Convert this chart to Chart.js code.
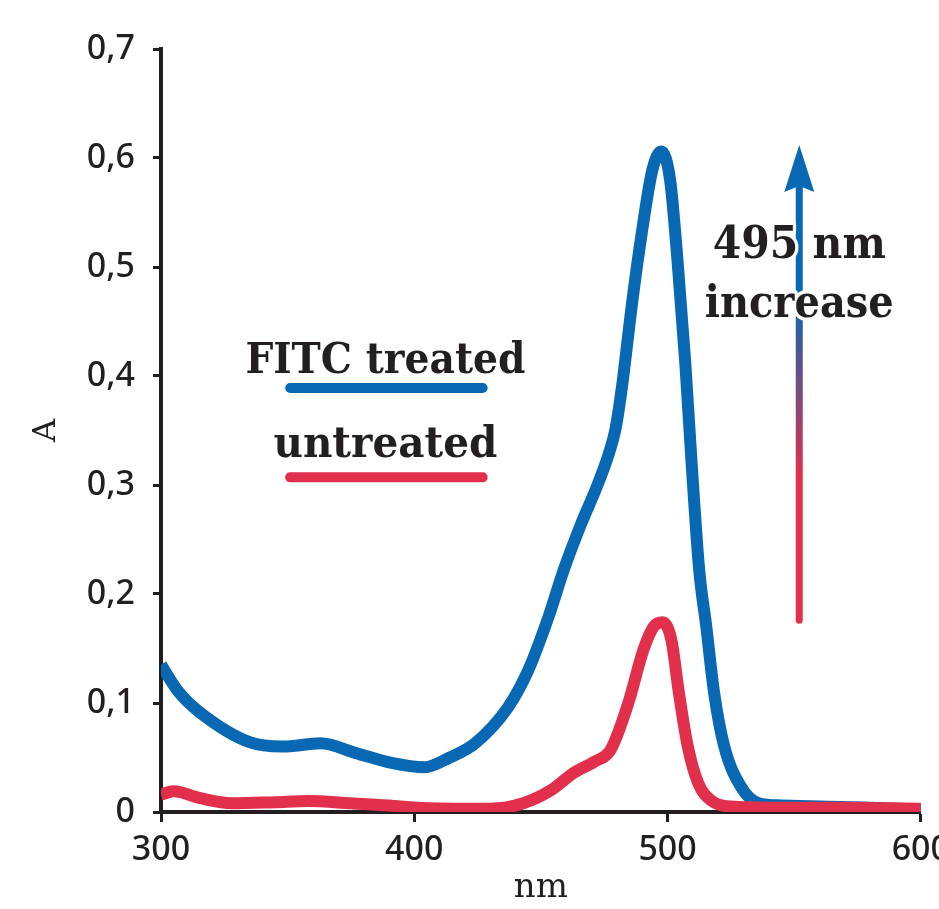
<!DOCTYPE html>
<html>
<head>
<meta charset="utf-8">
<script src="https://cdn.jsdelivr.net/npm/chart.js@4.4.1/dist/chart.umd.min.js"></script>
<style>
    html, body { margin: 0; padding: 0; background: #fff; overflow: hidden; }
    #wrap { width: 939px; height: 909px; overflow: hidden; }
</style>
</head>
<body>
<div id="wrap"><canvas id="spectrum" width="958" height="909"></canvas></div>
<script>
// absorbance spectra, wavelength in nm
const fitcNm = [300, 307, 315, 335, 348, 363, 377, 391, 404, 414, 424, 437, 445, 453, 459, 466, 472, 477, 479.5, 482, 486, 490, 494, 497.5, 501, 504, 507, 509.5, 512.5, 515.3, 518.4, 522.4, 529, 536, 545, 560, 580, 600];
const fitcA = [0.135, 0.110, 0.092, 0.064, 0.060, 0.063, 0.054, 0.045, 0.041, 0.050, 0.063, 0.096, 0.130, 0.179, 0.222, 0.265, 0.298, 0.330, 0.352, 0.390, 0.467, 0.534, 0.589, 0.606, 0.580, 0.504, 0.412, 0.320, 0.222, 0.170, 0.109, 0.060, 0.023, 0.008, 0.006, 0.005, 0.004, 0.002];

const untreatedNm = [300, 305, 315, 328, 345, 358, 375, 390, 401, 421, 430, 443, 454, 463, 471, 477.5, 484.5, 490.5, 494.5, 498, 501.5, 504.5, 508, 512, 517, 525, 540, 570, 600];
const untreatedA = [0.016, 0.019, 0.013, 0.008, 0.009, 0.010, 0.008, 0.006, 0.004, 0.003, 0.003, 0.008, 0.020, 0.036, 0.046, 0.057, 0.100, 0.149, 0.170, 0.174, 0.158, 0.109, 0.060, 0.027, 0.011, 0.005, 0.004, 0.004, 0.003];

const xTicks = [300, 400, 500, 600];
const yTicks = [0, 0.1, 0.2, 0.3, 0.4, 0.5, 0.6, 0.7];

const BLUE = '#0868b3';
const RED = '#e2304c';
const INK = '#231f20';

const toPoints = (xs, ys) => xs.map((x, i) => ({ x: x, y: ys[i] }));

// legend labels and the arrow note drawn inside the plot
const annotations = {
    id: 'annotations',
    afterDatasetsDraw(chart) {
        const ctx = chart.ctx;
        const sx = chart.scales.x;
        const sy = chart.scales.y;

        const drawText = (text, nm, a, font, width) => {
            ctx.font = font;
            ctx.textAlign = 'center';
            ctx.textBaseline = 'alphabetic';
            ctx.lineJoin = 'round';
            ctx.lineWidth = 7;
            ctx.strokeStyle = '#fff';
            ctx.strokeText(text, sx.getPixelForValue(nm), sy.getPixelForValue(a), width);
            ctx.fillStyle = INK;
            ctx.fillText(text, sx.getPixelForValue(nm), sy.getPixelForValue(a), width);
        };

        const drawBar = (color, a) => {
            ctx.beginPath();
            ctx.moveTo(sx.getPixelForValue(351), sy.getPixelForValue(a));
            ctx.lineTo(sx.getPixelForValue(427), sy.getPixelForValue(a));
            ctx.lineWidth = 10;
            ctx.lineCap = 'round';
            ctx.strokeStyle = color;
            ctx.stroke();
        };

        ctx.save();

        // legend
        drawText('FITC treated', 388.6, 0.403, 'bold 42px "DejaVu Serif"', 280);
        drawBar(BLUE, 0.389);
        drawText('untreated', 388.6, 0.326, 'bold 42px "DejaVu Serif"', 224);
        drawBar(RED, 0.307);

        // arrow, red at the base fading into blue at the head
        const ax = sx.getPixelForValue(552);
        const yBase = sy.getPixelForValue(0.176);
        const yTip = sy.getPixelForValue(0.612);
        const grad = ctx.createLinearGradient(0, yBase, 0, yTip);
        grad.addColorStop(0, RED);
        grad.addColorStop(0.3, RED);
        grad.addColorStop(0.68, BLUE);
        grad.addColorStop(1, BLUE);

        ctx.beginPath();
        ctx.moveTo(ax, yBase);
        ctx.lineTo(ax, yTip + 38);
        ctx.lineWidth = 7;
        ctx.lineCap = 'round';
        ctx.strokeStyle = grad;
        ctx.stroke();

        ctx.beginPath();
        ctx.moveTo(ax, yTip);
        ctx.lineTo(ax + 15, yTip + 47);
        ctx.lineTo(ax, yTip + 41);
        ctx.lineTo(ax - 15, yTip + 47);
        ctx.closePath();
        ctx.fillStyle = BLUE;
        ctx.fill();

        drawText('495 nm', 552, 0.508, 'bold 44px "DejaVu Serif"', 173);
        drawText('increase', 552, 0.454, 'bold 44px "DejaVu Serif"', 189);

        ctx.restore();
    }
};

const chart = new Chart(document.getElementById('spectrum').getContext('2d'), {
    type: 'line',
    data: {
        datasets: [
            {
                label: 'untreated',
                data: toPoints(untreatedNm, untreatedA),
                borderColor: RED,
                borderWidth: 12,
                pointRadius: 0,
                cubicInterpolationMode: 'monotone',
                order: 0
            },
            {
                label: 'FITC treated',
                data: toPoints(fitcNm, fitcA),
                borderColor: BLUE,
                borderWidth: 12,
                pointRadius: 0,
                cubicInterpolationMode: 'monotone',
                order: 1
            }
        ]
    },
    options: {
        responsive: false,
        animation: false,
        layout: {
            padding: { top: 49, right: 16, bottom: 0, left: 0 }
        },
        plugins: {
            legend: { display: false },
            tooltip: { enabled: false }
        },
        scales: {
            x: {
                type: 'linear',
                min: 300,
                max: 600,
                afterFit: (scale) => { scale.height = 97; },
                afterBuildTicks: (scale) => { scale.ticks = xTicks.map(v => ({ value: v })); },
                border: { color: INK, width: 4 },
                grid: {
                    drawOnChartArea: false,
                    drawTicks: true,
                    tickLength: 10,
                    tickWidth: 3,
                    tickColor: INK
                },
                ticks: {
                    color: INK,
                    padding: 8,
                    maxRotation: 0,
                    font: { family: '"Noto Sans"', size: 34, weight: '500' }
                },
                title: {
                    display: true,
                    text: 'nm',
                    color: INK,
                    padding: { top: 0, bottom: 0 },
                    font: { family: '"DejaVu Serif"', size: 34 }
                }
            },
            y: {
                min: 0,
                max: 0.7,
                afterFit: (scale) => { scale.width = 161; },
                afterBuildTicks: (scale) => { scale.ticks = yTicks.map(v => ({ value: v })); },
                border: { color: INK, width: 4 },
                grid: {
                    drawOnChartArea: false,
                    drawTicks: true,
                    tickLength: 8,
                    tickWidth: 3,
                    tickColor: INK
                },
                ticks: {
                    color: INK,
                    padding: 18,
                    font: { family: '"Noto Sans"', size: 34, weight: '500' },
                    callback: (v) => v === 0 ? '0' : v.toFixed(1).replace('.', ',')
                },
                title: {
                    display: true,
                    text: 'A',
                    color: INK,
                    padding: { top: 27, bottom: 0 },
                    font: { family: '"DejaVu Serif"', size: 32 }
                }
            }
        }
    },
    plugins: [annotations]
});
</script>
</body>
</html>
